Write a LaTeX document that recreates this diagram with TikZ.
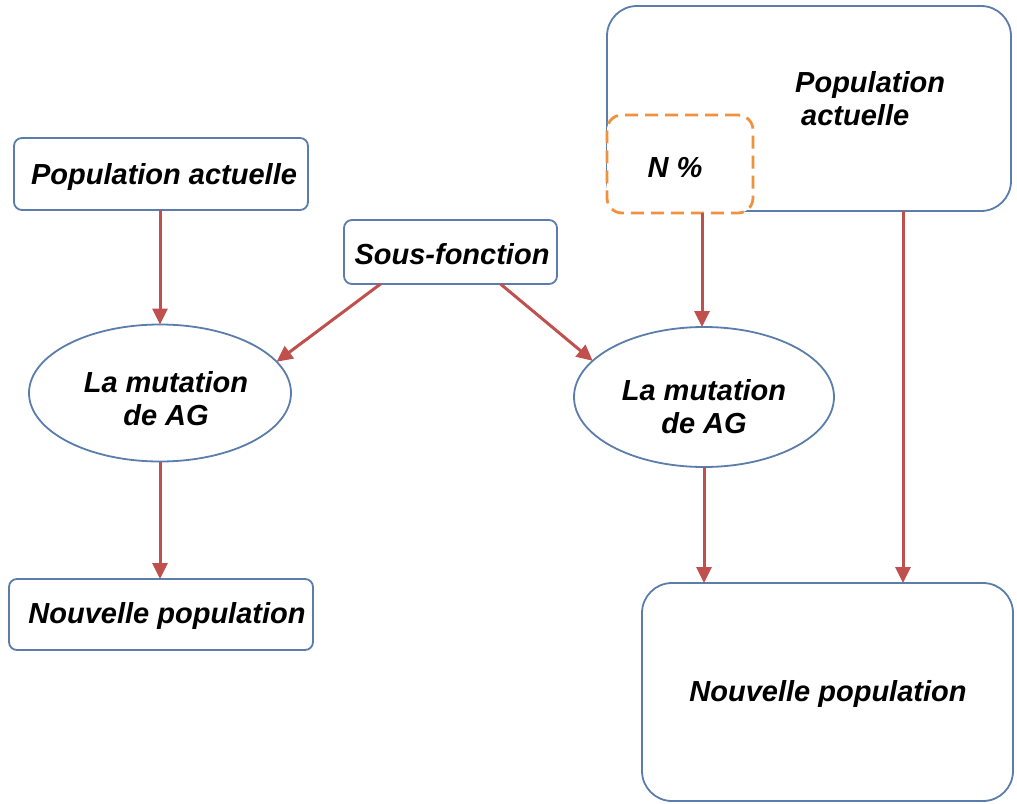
\documentclass[tikz,border=0pt]{standalone}
\usepackage{fontspec}
\setmainfont{Liberation Sans}
\usetikzlibrary{arrows.meta,shapes.geometric}
\definecolor{boxblue}{HTML}{5A7DAB}
\definecolor{arrred}{HTML}{C0504D}
\definecolor{dashorange}{HTML}{F0913E}
\tikzset{
  txt/.style={font=\fontsize{29}{33}\selectfont\bfseries\itshape, align=center, inner sep=0pt},
  rbox/.style={draw=boxblue, line width=1.8pt, fill=white, rectangle, inner sep=0pt, outer sep=0pt},
  oval/.style={draw=boxblue, line width=1.8pt, fill=white, ellipse, inner sep=0pt, outer sep=0pt},
  arr/.style={draw=arrred, line width=3pt, -{Triangle[length=16pt,width=15pt]}},
}
\begin{document}
\begin{tikzpicture}[x=1pt,y=-1pt]
\useasboundingbox (0,0) rectangle (1017,803);

% left branch
\node[rbox, rounded corners=8pt, minimum width=294pt, minimum height=72pt] (popA) at (161,174) {};
\node[txt] (popAtxt) at (164,177) {Population actuelle};
\node[oval, minimum width=262pt, minimum height=137pt] (mutL) at (160,393) {};
\node[txt] (mutLtxt) at (166,399) {La mutation\\de AG};
\node[rbox, rounded corners=8pt, minimum width=304pt, minimum height=71pt] (newL) at (161,614.5) {};
\node[txt] (newLtxt) at (167,616) {Nouvelle population};

% shared sub-function
\node[rbox, rounded corners=8pt, minimum width=213pt, minimum height=64pt] (sous) at (450.5,252) {};
\node[txt] (soustxt) at (452,254) {Sous-fonction};

% right branch
\node[rbox, rounded corners=30pt, minimum width=404pt, minimum height=205pt] (popR) at (809,108.5) {};
\node[txt, align=left, anchor=west] (popRtxt) at (795,99) {Population\\\hspace*{6pt}actuelle};
\node[rbox, draw=dashorange, dashed, dash pattern=on 13pt off 7pt, line width=2.8pt,
      rounded corners=15pt, minimum width=146pt, minimum height=98pt] (npct) at (680,164) {};
\node[txt] (npcttxt) at (675,168) {N \%};
\node[oval, minimum width=260pt, minimum height=140pt] (mutR) at (704,397) {};
\node[txt] (mutRtxt) at (704,407) {La mutation\\de AG};
\node[rbox, rounded corners=30pt, minimum width=371pt, minimum height=218pt] (newR) at (827.5,692) {};
\node[txt] (newRtxt) at (828,694) {Nouvelle population};

\coordinate (popRout) at ([xshift=94pt]popR.south);

% connectors
\draw[arr] (popA.south -| mutL.north) -- (mutL.north);
\draw[arr] (mutL.south) -- (mutL.south |- newL.north);
\draw[arr] ([xshift=-70pt]sous.south) -- (mutL.15);
\draw[arr] ([xshift=50pt]sous.south) -- (mutR.162);
\draw[arr] ([xshift=-2pt]mutR.north |- npct.south) -- ([xshift=-2pt]mutR.north);
\draw[arr] (mutR.south) -- (mutR.south |- newR.north);
\draw[arr] (popRout) -- (popRout |- newR.north);
\end{tikzpicture}
\end{document}
